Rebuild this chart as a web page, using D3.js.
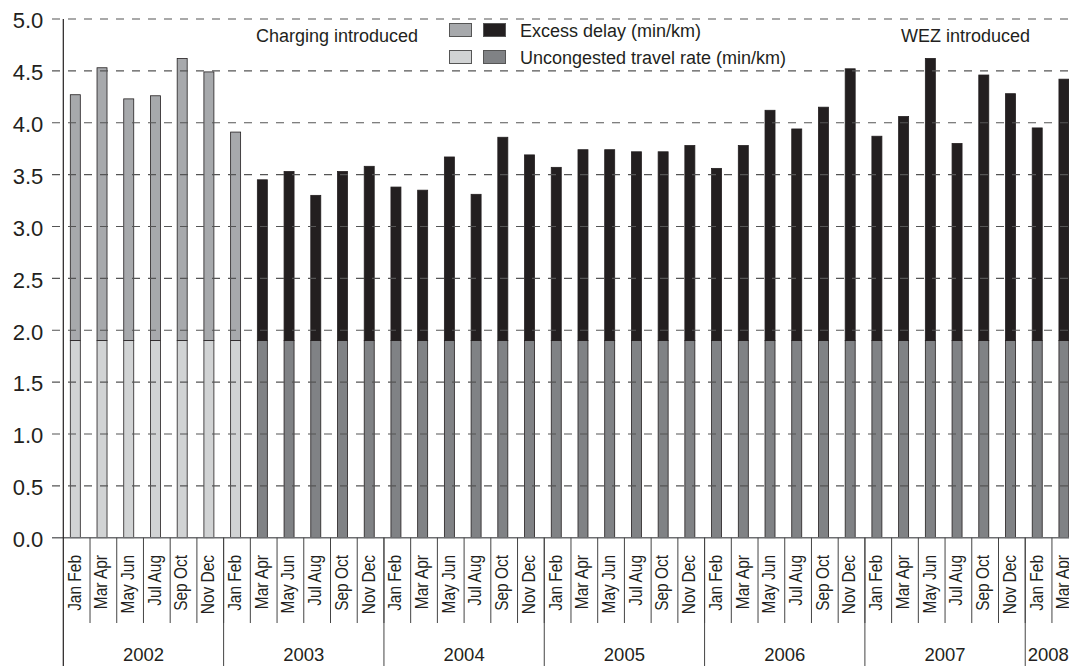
<!DOCTYPE html>
<html>
<head>
<meta charset="utf-8">
<script src="https://cdn.jsdelivr.net/npm/d3@7"></script>
<style>
  html, body { margin: 0; padding: 0; background: #fff; }
  svg { display: block; font-family: "Liberation Sans", Arial, Helvetica, sans-serif; }
</style>
</head>
<body>
<svg id="chart" width="1069" height="666"></svg>
<script>
// Two-monthly periods, grouped by year
const periods = ["Jan Feb", "Mar Apr", "May Jun", "Jul Aug", "Sep Oct", "Nov Dec"];
const years = ["2002", "2003", "2004", "2005", "2006", "2007", "2008"];
const periodsPerYear = [6, 6, 6, 6, 6, 6, 2];

// Excess delay (min/km) for each period, in order
const excessDelay = [
  2.37, 2.63, 2.33, 2.36, 2.72, 2.59,   // 2002
  2.01, 1.55, 1.63, 1.40, 1.63, 1.68,   // 2003
  1.48, 1.45, 1.77, 1.41, 1.96, 1.79,   // 2004
  1.67, 1.84, 1.84, 1.82, 1.82, 1.88,   // 2005
  1.66, 1.88, 2.22, 2.04, 2.25, 2.62,   // 2006
  1.97, 2.16, 2.72, 1.90, 2.56, 2.38,   // 2007
  2.05, 2.52                            // 2008
];
// Uncongested travel rate (min/km) for each period
const uncongested = [
  1.9, 1.9, 1.9, 1.9, 1.9, 1.9,
  1.9, 1.9, 1.9, 1.9, 1.9, 1.9,
  1.9, 1.9, 1.9, 1.9, 1.9, 1.9,
  1.9, 1.9, 1.9, 1.9, 1.9, 1.9,
  1.9, 1.9, 1.9, 1.9, 1.9, 1.9,
  1.9, 1.9, 1.9, 1.9, 1.9, 1.9,
  1.9, 1.9
];
// Periods before this index precede the congestion charge
const chargingIndex = 7;

const yTicks = [0, 0.5, 1.0, 1.5, 2.0, 2.5, 3.0, 3.5, 4.0, 4.5, 5.0];

const annotations = [
  { text: "Charging introduced", x: 256, y: 42 },
  { text: "WEZ introduced", x: 901, y: 42 }
];
const legendItems = [
  { label: "Excess delay (min/km)", colors: ["#a7a9ac", "#231f20"] },
  { label: "Uncongested travel rate (min/km)", colors: ["#d1d3d4", "#808285"] }
];

// Build the per-bar rows
const labels = [];
const yearOf = [];
years.forEach((yr, yi) => {
  for (let k = 0; k < periodsPerYear[yi]; k++) { labels.push(periods[k]); yearOf.push(yr); }
});
const rows = labels.map((lab, i) => ({
  i, label: lab, year: yearOf[i],
  base: uncongested[i], excess: excessDelay[i],
  before: i < chargingIndex
}));

const W = 1069, H = 666;
const left = 63.3, step = 26.72;
const svg = d3.select("#chart");

const x = d3.scaleBand()
  .domain(d3.range(rows.length))
  .range([left, left + step * rows.length])
  .paddingInner(0).paddingOuter(0);
const y = d3.scaleLinear().domain([0, 5]).range([537.7, 19]);

const barW = 10, barOff = 7;
const ink = "#231f20";

// Bars: stacked uncongested + excess
const bars = svg.append("g");
bars.selectAll("rect.base").data(rows).join("rect")
  .attr("class", "base")
  .attr("x", d => x(d.i) + barOff)
  .attr("width", barW)
  .attr("y", d => y(d.base))
  .attr("height", d => y(0) - y(d.base))
  .attr("fill", d => d.before ? "#d1d3d4" : "#808285")
  .attr("stroke", ink).attr("stroke-width", 0.8);
bars.selectAll("rect.excess").data(rows).join("rect")
  .attr("class", "excess")
  .attr("x", d => x(d.i) + barOff)
  .attr("width", barW)
  .attr("y", d => y(d.base + d.excess))
  .attr("height", d => y(d.base) - y(d.base + d.excess))
  .attr("fill", d => d.before ? "#a7a9ac" : "#231f20")
  .attr("stroke", ink).attr("stroke-width", 0.8);

// Dashed gridlines
svg.append("g").selectAll("line").data(yTicks.filter(t => t > 0)).join("line")
  .attr("x1", 52).attr("x2", W)
  .attr("y1", d => y(d)).attr("y2", d => y(d))
  .attr("stroke", "#555").attr("stroke-width", 1.1)
  .attr("stroke-dasharray", "8,8");

// Baseline
svg.append("line")
  .attr("x1", 52).attr("x2", W)
  .attr("y1", y(0)).attr("y2", y(0))
  .attr("stroke", "#6d6e71").attr("stroke-width", 1.5);

// Y axis
const yAxis = svg.append("g")
  .attr("transform", `translate(${left},0)`)
  .call(d3.axisLeft(y).tickValues(yTicks).tickFormat(d3.format(".1f")).tickSize(0).tickPadding(20));
yAxis.select(".domain").remove();
yAxis.selectAll("text")
  .attr("font-size", 22).attr("fill", ink)
  .attr("font-family", "Liberation Sans, Arial, sans-serif")
  .attr("dy", "0.4em");
svg.append("line")
  .attr("x1", left).attr("x2", left)
  .attr("y1", y(5)).attr("y2", H)
  .attr("stroke", ink).attr("stroke-width", 1.2);

// Category separators and labels
const sepBottom = 623;
svg.append("g").selectAll("line").data(d3.range(1, rows.length)).join("line")
  .attr("x1", d => left + d * step).attr("x2", d => left + d * step)
  .attr("y1", y(0)).attr("y2", sepBottom)
  .attr("stroke", "#444").attr("stroke-width", 1);
svg.append("g").selectAll("text").data(rows).join("text")
  .attr("transform", d => `translate(${x(d.i) + barOff + barW / 2 - 1},555) rotate(-90) scale(0.86,1)`)
  .attr("text-anchor", "end")
  .attr("dy", "0.35em")
  .attr("font-size", 18)
  .attr("fill", ink)
  .text(d => d.label);

// Year groups
let start = 0;
const groups = years.map((yr, yi) => {
  const g = { year: yr, start, n: periodsPerYear[yi] };
  start += periodsPerYear[yi];
  return g;
});
svg.append("g").selectAll("line").data(groups.slice(1)).join("line")
  .attr("x1", d => left + d.start * step).attr("x2", d => left + d.start * step)
  .attr("y1", y(0)).attr("y2", H)
  .attr("stroke", "#444").attr("stroke-width", 1);
svg.append("g").selectAll("text").data(groups).join("text")
  .attr("x", d => Math.min(left + (d.start + d.n / 2) * step, left + d.start * step + 24))
  .attr("x", d => d.n === 6 ? left + (d.start + 3) * step : left + d.start * step + 23)
  .attr("y", 661)
  .attr("text-anchor", "middle")
  .attr("font-size", 18.5)
  .attr("fill", ink)
  .text(d => d.year);

// Event annotations
svg.append("g").selectAll("text").data(annotations).join("text")
  .attr("x", d => d.x).attr("y", d => d.y)
  .attr("font-size", 18).attr("fill", ink)
  .text(d => d.text);

// Legend
const legend = svg.append("g");
legendItems.forEach((item, r) => {
  const top = 23 + r * 27;
  item.colors.forEach((c, k) => {
    legend.append("rect")
      .attr("x", 449.5 + k * 34).attr("y", top + 0.5)
      .attr("width", 22).attr("height", 13)
      .attr("fill", c).attr("stroke", "#555").attr("stroke-width", 1);
  });
  legend.append("text")
    .attr("x", 520).attr("y", top + 13.5)
    .attr("font-size", 18).attr("fill", ink)
    .text(item.label);
});
</script>
</body>
</html>
